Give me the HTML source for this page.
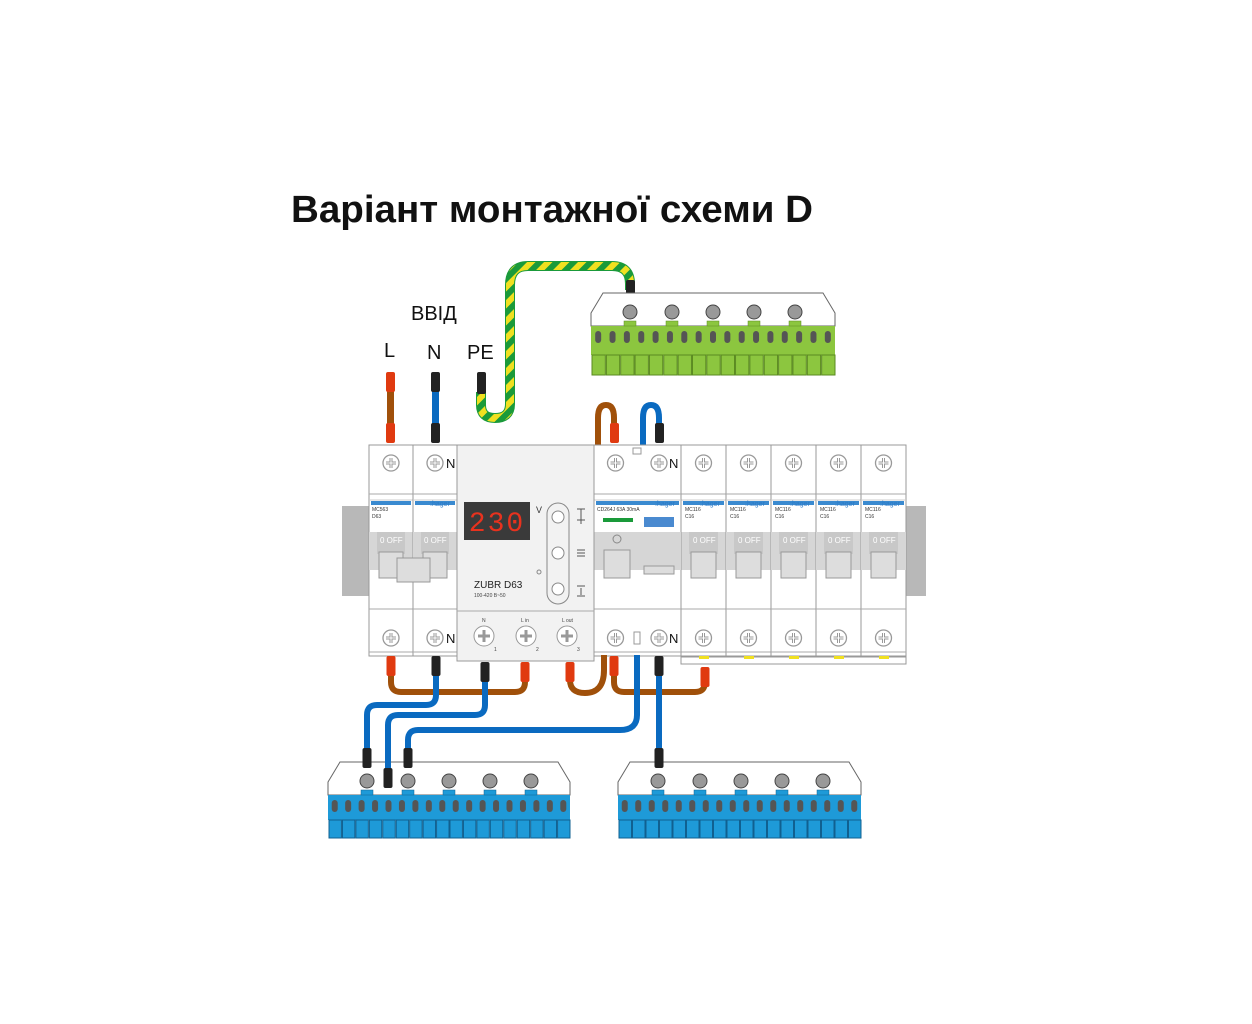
<!DOCTYPE html>
<html><head><meta charset="utf-8"><style>
html,body{margin:0;padding:0;background:#fff;}
svg{display:block;font-family:"Liberation Sans",sans-serif;}
</style></head><body>
<svg id="s" width="1252" height="1024" viewBox="0 0 1252 1024" xmlns="http://www.w3.org/2000/svg">
<defs>
<pattern id="gy" width="12" height="12" patternUnits="userSpaceOnUse" patternTransform="rotate(45)">
<rect width="12" height="12" fill="#f0e020"/><rect width="6" height="12" fill="#1a9a3a"/></pattern>
</defs>
<text x="291" y="222" font-size="38" font-weight="bold" textLength="522" lengthAdjust="spacingAndGlyphs" fill="#111">Варіант монтажної схеми D</text>
<text x="411" y="320" font-size="20" fill="#111">ВВІД</text>
<text x="384" y="357" font-size="20" fill="#111">L</text>
<text x="427" y="359" font-size="20" fill="#111">N</text>
<text x="467" y="359" font-size="20" fill="#111">PE</text>

<!-- PE wire -->
<path d="M481 392 L481 405 Q481 418 495 418 Q510 418 510 404 L510 285 Q510 266 528 266 L612 266 Q630 266 630 284 L630 290" fill="none" stroke="#1a9a3a" stroke-width="10"/>
<path d="M481 392 L481 405 Q481 418 495 418 Q510 418 510 404 L510 285 Q510 266 528 266 L612 266 Q630 266 630 284 L630 290" fill="none" stroke="url(#gy)" stroke-width="8"/>
<rect x="477" y="372" width="9" height="22" rx="2" fill="#222"/>
<rect x="626" y="280" width="9" height="22" rx="2" fill="#222"/>

<!-- input L, N -->
<rect x="387" y="385" width="7" height="45" fill="#a0500a"/>
<rect x="386" y="372" width="9" height="20" rx="2" fill="#e03a10"/>
<rect x="386" y="423" width="9" height="20" rx="2" fill="#e03a10"/>
<rect x="432" y="385" width="7" height="45" fill="#0a6ac0"/>
<rect x="431" y="372" width="9" height="20" rx="2" fill="#222"/>
<rect x="431" y="423" width="9" height="20" rx="2" fill="#222"/>

<!-- top jumpers -->
<path d="M598 445 L598 418 Q598 405 606 405 Q614 405 614 418 L614 430" fill="none" stroke="#a0500a" stroke-width="6"/>
<rect x="610" y="423" width="9" height="20" rx="2" fill="#e03a10"/>
<path d="M643 445 L643 418 Q643 405 651 405 Q659 405 659 418 L659 430" fill="none" stroke="#0a6ac0" stroke-width="6"/>
<rect x="655" y="423" width="9" height="20" rx="2" fill="#222"/>

<g id="blocks"></g>
<g id="din"></g>
<g id="wires"></g>

<!-- ZUBR texts -->
<rect x="464" y="502" width="66" height="38" fill="#3a3a3a"/>
<text x="497" y="531" font-size="28" fill="#e8321e" text-anchor="middle" font-family="Liberation Mono,monospace" letter-spacing="2">230</text>
<text x="536" y="513" font-size="9" fill="#333">V</text>
<text x="474" y="588" font-size="10" fill="#222">ZUBR D63</text>
<text x="474" y="597" font-size="5" fill="#444">100-420 B~50</text>
<text x="482" y="622" font-size="5" fill="#444">N</text>
<text x="521" y="622" font-size="5" fill="#444">L in</text>
<text x="562" y="622" font-size="5" fill="#444">L out</text>
<text x="494" y="651" font-size="5" fill="#444">1</text>
<text x="536" y="651" font-size="5" fill="#444">2</text>
<text x="577" y="651" font-size="5" fill="#444">3</text>
<text x="446" y="468" font-size="13" fill="#111">N</text>
<text x="446" y="643" font-size="13" fill="#111">N</text>
<text x="669" y="468" font-size="13" fill="#111">N</text>
<text x="669" y="643" font-size="13" fill="#111">N</text>
<text x="372" y="511" font-size="5" fill="#333">MC563</text>
<text x="372" y="518" font-size="5" fill="#333">D63</text>
<text x="597" y="511" font-size="5" fill="#333">CD264J 63A 30mA</text>
<text x="685" y="511" font-size="5" fill="#333">MC116</text><text x="685" y="518" font-size="5" fill="#333">C16</text>
<text x="730" y="511" font-size="5" fill="#333">MC116</text><text x="730" y="518" font-size="5" fill="#333">C16</text>
<text x="775" y="511" font-size="5" fill="#333">MC116</text><text x="775" y="518" font-size="5" fill="#333">C16</text>
<text x="820" y="511" font-size="5" fill="#333">MC116</text><text x="820" y="518" font-size="5" fill="#333">C16</text>
<text x="865" y="511" font-size="5" fill="#333">MC116</text><text x="865" y="518" font-size="5" fill="#333">C16</text>
<text x="430" y="506" font-size="7" fill="#2a7ac8">:hager</text>
<text x="655" y="506" font-size="7" fill="#2a7ac8">:hager</text>
<text x="700" y="506" font-size="7" fill="#2a7ac8">:hager</text>
<text x="745" y="506" font-size="7" fill="#2a7ac8">:hager</text>
<text x="790" y="506" font-size="7" fill="#2a7ac8">:hager</text>
<text x="835" y="506" font-size="7" fill="#2a7ac8">:hager</text>
<text x="880" y="506" font-size="7" fill="#2a7ac8">:hager</text>
<text x="380" y="543" font-size="8" fill="#fff">0 OFF</text>
<text x="424" y="543" font-size="8" fill="#fff">0 OFF</text>
<text x="693" y="543" font-size="8" fill="#fff">0 OFF</text>
<text x="738" y="543" font-size="8" fill="#fff">0 OFF</text>
<text x="783" y="543" font-size="8" fill="#fff">0 OFF</text>
<text x="828" y="543" font-size="8" fill="#fff">0 OFF</text>
<text x="873" y="543" font-size="8" fill="#fff">0 OFF</text>
</svg>
<script>
var NS="http://www.w3.org/2000/svg";
function el(p,t,a){var e=document.createElementNS(NS,t);for(var k in a)e.setAttribute(k,a[k]);p.appendChild(e);return e;}
var din=document.getElementById('din'),bl=document.getElementById('blocks'),wr=document.getElementById('wires');
function screw(g,x,y){el(g,'circle',{cx:x,cy:y,r:8,fill:'#fff',stroke:'#999','stroke-width':1.3});
el(g,'path',{d:'M'+(x-5)+' '+y+'H'+(x+5)+'M'+x+' '+(y-5)+'V'+(y+5),stroke:'#999','stroke-width':3});
el(g,'path',{d:'M'+(x-5)+' '+y+'H'+(x+5)+'M'+x+' '+(y-5)+'V'+(y+5),stroke:'#fff','stroke-width':1});}
el(din,'rect',{x:342,y:506,width:28,height:90,fill:'#b8b8b8'});
el(din,'rect',{x:905,y:506,width:21,height:90,fill:'#b8b8b8'});
function module(x,w,kind){
 el(din,'rect',{x:x,y:445,width:w,height:211,fill:'#fff',stroke:'#999'});
 el(din,'line',{x1:x,y1:494,x2:x+w,y2:494,stroke:'#aaa'});
 el(din,'line',{x1:x,y1:500,x2:x+w,y2:500,stroke:'#ccc'});
 el(din,'rect',{x:x+2,y:501,width:w-4,height:4,fill:'#3a8ad0'});
 el(din,'rect',{x:x,y:532,width:w,height:38,fill:'#d6d6d6'});
 el(din,'line',{x1:x,y1:609,x2:x+w,y2:609,stroke:'#aaa'});
 el(din,'line',{x1:x,y1:652,x2:x+w,y2:652,stroke:'#aaa'});
 if(kind=='mcb'){el(din,'rect',{x:x+8,y:532,width:w-16,height:22,fill:'#c8c8c8'});
  el(din,'rect',{x:x+10,y:552,width:w-20,height:26,fill:'#ddd',stroke:'#999'});}
 screw(din,x+w/2-(kind=='rcd'?22:0),463);screw(din,x+w/2-(kind=='rcd'?22:0),638);
}
module(369,44,'mcb');module(413,44,'mcb');
el(din,'rect',{x:397,y:558,width:33,height:24,fill:'#ddd',stroke:'#999'});
for(var i=0;i<5;i++)module(681+45*i,45,'mcb');
module(594,87,'rcd');screw(din,659,463);screw(din,659,638);
el(din,'rect',{x:603,y:518,width:30,height:4,fill:'#1a9a3a'});
el(din,'rect',{x:644,y:517,width:30,height:10,fill:'#4a8ad0'});
el(din,'circle',{cx:617,cy:539,r:4,fill:'none',stroke:'#888'});
el(din,'rect',{x:604,y:550,width:26,height:28,fill:'#ddd',stroke:'#999'});
el(din,'rect',{x:644,y:566,width:30,height:8,fill:'#ddd',stroke:'#999'});
el(din,'rect',{x:633,y:448,width:8,height:6,fill:'#fff',stroke:'#999'});
el(din,'rect',{x:634,y:632,width:6,height:12,fill:'#fff',stroke:'#999'});
el(din,'rect',{x:681,y:657,width:225,height:7,fill:'#fff',stroke:'#999'});
for(var i=0;i<5;i++)el(din,'rect',{x:699+45*i,y:656,width:10,height:3,fill:'#f0e020'});
el(din,'rect',{x:457,y:445,width:137,height:216,fill:'#f2f2f2',stroke:'#999'});
el(din,'line',{x1:457,y1:611,x2:594,y2:611,stroke:'#aaa'});
el(din,'rect',{x:547,y:503,width:22,height:101,rx:11,fill:'none',stroke:'#888'});
[517,553,589].forEach(function(y){el(din,'circle',{cx:558,cy:y,r:6,fill:'#fff',stroke:'#888'});});
el(din,'circle',{cx:539,cy:572,r:2,fill:'none',stroke:'#888'});
el(din,'path',{d:'M577 509h8M581 509v8M577 520h8M581 516v8M577 550h8M577 553h8M577 556h8M577 586h8M581 588v7M577 596h8',stroke:'#555','stroke-width':1,fill:'none'});
[484,526,567].forEach(function(x){el(din,'circle',{cx:x,cy:636,r:10,fill:'#fff',stroke:'#999'});
 el(din,'path',{d:'M'+(x-6)+' 636H'+(x+6)+'M'+x+' 630V642',stroke:'#999','stroke-width':3});});

function block(x,y,w,body,dark,screws,n,th,bh,tth){
 el(bl,'path',{d:'M'+(x+12)+' '+y+'H'+(x+w-12)+'L'+(x+w)+' '+(y+20)+'V'+(y+th)+'H'+x+'V'+(y+20)+'Z',fill:'#fff',stroke:'#666'});
 el(bl,'rect',{x:x,y:y+th,width:w,height:bh,fill:body});
 for(var i=0;i<n;i++){var tx=x+i*(w/n);el(bl,'rect',{x:tx+1,y:y+th+bh,width:w/n-1,height:tth,fill:body,stroke:dark,'stroke-width':1});
  el(bl,'rect',{x:tx+w/n/2-3,y:y+th+5,width:6,height:12,rx:3,fill:'#555'});}
 screws.forEach(function(sx){el(bl,'circle',{cx:sx,cy:y+19,r:7,fill:'#999',stroke:'#444'});
  el(bl,'rect',{x:sx-6,y:y+th-5,width:12,height:5,fill:body,stroke:dark,'stroke-width':0.5});});
}
block(591,293,244,'#8cc63f','#5a8a20',[630,672,713,754,795],17,33,29,20);
block(328,762,242,'#1e9ad8','#106090',[367,408,449,490,531],18,33,25,18);
block(618,762,243,'#1e9ad8','#106090',[658,700,741,782,823],18,33,25,18);

function w(d,c){el(wr,'path',{d:d,fill:'none',stroke:c,'stroke-width':6,'stroke-linejoin':'round'});}
var B='#a0500a',U='#0a6ac0';
w('M391 670V682Q391 692 401 692H515Q525 692 525 682V670',B);
w('M570 670V680Q570 693 585 693Q604 693 604 670V655',B);
w('M614 670V682Q614 692 624 692H695Q705 692 705 682V670',B);
w('M436 670V695Q436 705 426 705H377Q367 705 367 715V755',U);
w('M485 670V705Q485 715 475 715H398Q388 715 388 725V780',U);
w('M637 655V715Q637 730 620 730H418Q408 730 408 740V755',U);
w('M659 670V755',U);
function f(x,y,c){el(wr,'rect',{x:x-4.5,y:y,width:9,height:20,rx:2,fill:c});}
var R='#e03a10',K='#222';
f(391,656,R);f(436,656,K);f(485,662,K);f(525,662,R);f(570,662,R);f(614,656,R);f(659,656,K);f(705,667,R);
f(367,748,K);f(388,768,K);f(408,748,K);f(659,748,K);
</script>
</body></html>
